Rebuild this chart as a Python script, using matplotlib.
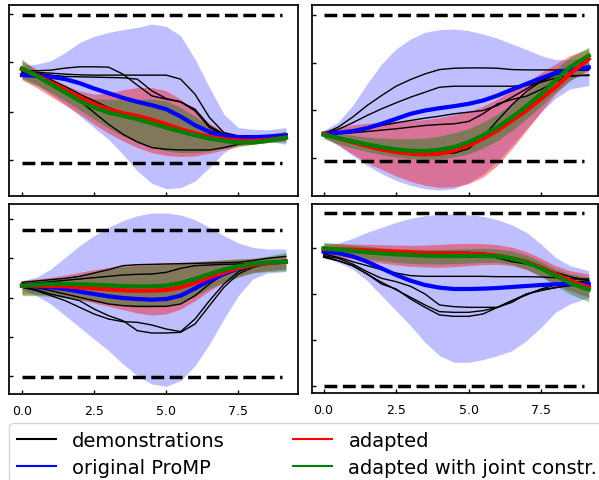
import matplotlib.pyplot as plt
from matplotlib.lines import Line2D

# time axis (shared by all four joints)
t = [0, 0.5, 1, 1.5, 2, 2.5, 3, 3.5, 4, 4.5, 5, 5.5, 6, 6.5, 7, 7.5, 8, 8.5, 9.15]

# ---- joint 1 (top left)
tl_demos = [
    [267, 267, 269, 275, 279, 279, 278, 257, 224, 192, 182, 174, 152, 102, 77, 72, 72, 72, 74],
    [264, 262, 260, 257, 255, 254, 254, 254, 254, 254, 254, 242, 197, 127, 82, 72, 72, 72, 74],
    [264, 260, 254, 250, 249, 248, 247, 246, 242, 207, 184, 174, 147, 97, 75, 70, 70, 70, 72],
    [262, 254, 240, 220, 197, 177, 157, 142, 127, 112, 97, 87, 80, 74, 70, 67, 64, 64, 64],
    [257, 247, 232, 207, 177, 142, 107, 77, 54, 37, 32, 30, 30, 30, 37, 47, 54, 58, 62],
]
tl_blue = [254, 252, 249, 242, 230, 214, 200, 186, 174, 164, 152, 130, 104, 84, 72, 68, 68, 70, 74]
tl_blue_hi = [282, 287, 297, 322, 352, 370, 382, 390, 397, 407, 400, 372, 302, 217, 137, 97, 92, 90, 97]
tl_blue_lo = [247, 227, 197, 167, 132, 97, 62, 17, -33, -70, -86, -83, -63, -23, 22, 47, 54, 57, 47]
tl_red = [272, 254, 232, 210, 187, 167, 152, 140, 132, 120, 107, 92, 80, 70, 62, 58, 57, 60, 67]
tl_red_hi = [297, 272, 247, 224, 207, 197, 200, 210, 217, 217, 207, 182, 147, 110, 84, 74, 72, 77, 84]
tl_red_lo = [240, 217, 190, 164, 137, 107, 80, 57, 37, 22, 14, 10, 12, 20, 30, 40, 47, 52, 57]
tl_green = [274, 252, 227, 202, 177, 157, 142, 132, 122, 110, 97, 85, 74, 64, 57, 52, 52, 57, 67]
tl_green_hi = [302, 267, 237, 212, 192, 184, 182, 182, 182, 182, 177, 157, 130, 102, 82, 72, 69, 74, 87]
tl_green_lo = [242, 224, 202, 177, 150, 122, 95, 72, 52, 37, 27, 22, 22, 27, 35, 42, 47, 52, 54]
tl_limits = [435, -8]

# ---- joint 2 (top right)
tr_demos = [
    [73, 93, 123, 158, 188, 216, 236, 253, 266, 270, 271, 271, 270, 266, 265, 265, 265, 265, 265],
    [73, 86, 106, 128, 148, 166, 183, 198, 213, 216, 216, 216, 216, 216, 218, 228, 240, 248, 248],
    [73, 78, 83, 90, 98, 106, 113, 120, 126, 133, 138, 143, 158, 183, 208, 233, 253, 263, 266],
    [73, 74, 76, 80, 84, 88, 93, 98, 101, 103, 110, 133, 163, 176, 186, 206, 230, 246, 250],
    [70, 63, 53, 43, 31, 23, 18, 15, 13, 15, 28, 63, 113, 160, 200, 230, 250, 263, 273],
]
tr_blue = [73, 76, 81, 90, 103, 118, 133, 143, 150, 156, 163, 173, 188, 206, 223, 240, 256, 266, 273]
tr_blue_hi = [83, 108, 158, 223, 283, 328, 358, 378, 386, 388, 383, 373, 360, 343, 326, 308, 296, 296, 303]
tr_blue_lo = [63, 38, 8, -22, -47, -67, -82, -92, -96, -92, -74, -48, -10, 38, 88, 138, 180, 208, 218]
tr_red = [73, 60, 48, 36, 26, 18, 13, 11, 13, 23, 38, 58, 83, 113, 143, 178, 213, 253, 298]
tr_red_hi = [83, 93, 100, 105, 108, 110, 112, 116, 122, 130, 140, 156, 178, 203, 228, 256, 283, 308, 328]
tr_red_lo = [63, 40, 12, -14, -34, -54, -70, -82, -88, -86, -77, -57, -22, 28, 83, 138, 193, 233, 263]
tr_green = [70, 60, 50, 41, 33, 26, 22, 21, 25, 33, 48, 68, 93, 123, 156, 193, 233, 273, 308]
tr_green_hi = [83, 76, 68, 63, 60, 58, 58, 60, 66, 76, 88, 108, 133, 163, 196, 230, 266, 303, 333]
tr_green_lo = [58, 43, 30, 20, 10, 3, -2, -4, -2, 3, 13, 30, 53, 83, 118, 156, 198, 233, 268]
tr_limits = [431, -10]

# ---- joint 3 (bottom left)
bl_demos = [
    [282, 286, 290, 294, 300, 310, 320, 332, 335, 336, 337, 338, 339, 340, 341, 342, 347, 354, 360],
    [277, 280, 284, 288, 292, 296, 300, 304, 306, 307, 312, 324, 332, 334, 336, 337, 339, 342, 346],
    [272, 266, 257, 247, 237, 227, 217, 212, 210, 210, 210, 217, 242, 277, 307, 327, 337, 342, 344],
    [270, 260, 247, 237, 227, 202, 182, 167, 137, 130, 130, 132, 157, 212, 267, 307, 327, 337, 347],
    [267, 257, 242, 227, 207, 187, 172, 164, 162, 154, 142, 134, 172, 227, 277, 314, 332, 340, 347],
]
bl_blue = [272, 270, 267, 262, 254, 247, 240, 235, 232, 230, 232, 242, 264, 287, 307, 324, 334, 340, 344]
bl_blue_hi = [287, 297, 322, 357, 392, 422, 447, 467, 482, 490, 490, 484, 470, 447, 422, 400, 387, 382, 382]
bl_blue_lo = [262, 242, 217, 182, 147, 112, 77, 37, 2, -23, -30, -13, 32, 97, 172, 242, 292, 310, 314]
bl_red = [272, 272, 271, 270, 267, 264, 261, 258, 257, 257, 259, 267, 280, 297, 312, 325, 334, 340, 344]
bl_red_hi = [287, 292, 297, 304, 312, 320, 327, 334, 337, 339, 340, 342, 344, 347, 350, 352, 354, 357, 362]
bl_red_lo = [247, 247, 244, 237, 230, 220, 210, 200, 190, 184, 187, 202, 227, 257, 282, 300, 312, 317, 322]
bl_green = [272, 275, 277, 277, 276, 275, 273, 271, 270, 270, 272, 280, 292, 307, 320, 330, 337, 342, 344]
bl_green_hi = [282, 286, 290, 296, 304, 314, 322, 329, 332, 334, 336, 339, 342, 346, 349, 352, 354, 360, 372]
bl_green_lo = [242, 242, 240, 236, 230, 224, 217, 212, 207, 207, 209, 220, 240, 264, 282, 297, 310, 314, 317]
bl_limits = [440, -3]

# ---- joint 4 (bottom right)
br_demos = [
    [408, 407, 406, 405, 404, 402, 401, 400, 400, 400, 400, 398, 383, 372, 365, 355, 340, 327, 315],
    [395, 385, 372, 360, 348, 338, 330, 328, 328, 328, 328, 328, 327, 327, 327, 326, 324, 320, 320],
    [390, 382, 365, 342, 322, 312, 298, 275, 242, 237, 235, 235, 235, 250, 275, 288, 294, 300, 305],
    [385, 375, 360, 335, 310, 288, 265, 242, 222, 220, 220, 225, 235, 255, 275, 285, 294, 302, 310],
    [388, 375, 360, 335, 305, 290, 260, 235, 212, 208, 208, 215, 235, 255, 272, 290, 302, 310, 315],
]
br_blue = [402, 398, 388, 372, 352, 332, 315, 302, 294, 290, 290, 291, 293, 296, 299, 302, 304, 305, 305]
br_blue_hi = [420, 428, 442, 460, 475, 490, 502, 510, 514, 515, 513, 508, 498, 482, 460, 425, 385, 360, 345]
br_blue_lo = [385, 370, 350, 315, 270, 225, 180, 130, 90, 70, 70, 78, 90, 105, 135, 175, 220, 245, 265]
br_red = [410, 409, 408, 406, 404, 402, 400, 398, 397, 396, 395, 394, 390, 382, 372, 355, 335, 315, 295]
br_red_hi = [427, 426, 425, 424, 423, 422, 421, 422, 424, 426, 427, 426, 423, 415, 402, 382, 360, 345, 335]
br_red_lo = [390, 385, 380, 374, 368, 362, 358, 356, 355, 357, 360, 363, 364, 360, 348, 328, 305, 285, 265]
br_green = [412, 408, 404, 400, 397, 394, 392, 390, 389, 389, 389, 389, 388, 382, 370, 352, 330, 308, 288]
br_green_hi = [430, 426, 422, 418, 414, 411, 410, 409, 409, 410, 411, 412, 410, 404, 392, 372, 350, 335, 325]
br_green_lo = [395, 390, 385, 380, 375, 370, 367, 365, 365, 366, 368, 370, 370, 364, 350, 328, 300, 275, 252]
br_limits = [517, -2]

labels = ["demonstrations", "original ProMP", "adapted", "adapted with joint constr."]


def draw_joint(ax, demos, blue, blue_lo, blue_hi, red, red_lo, red_hi,
               green, green_lo, green_hi, limits):
    ax.fill_between(t, blue_lo, blue_hi, color="blue", alpha=0.25, lw=0)
    ax.fill_between(t, red_lo, red_hi, color="red", alpha=0.4, lw=0)
    ax.fill_between(t, green_lo, green_hi, color="green", alpha=0.4, lw=0)
    for d in demos:
        ax.plot(t, d, color="black", lw=1)
    ax.plot(t, blue, color="blue", lw=3)
    ax.plot(t, red, color="red", lw=3)
    ax.plot(t, green, color="green", lw=3)
    for lim in limits:
        ax.plot([0, 9.0], [lim, lim], "k--", lw=2.5)
    ax.tick_params(direction="in", length=3, width=1, labelleft=False,
                   labelsize=9, pad=7)
    ax.set_xticks([0, 2.5, 5.0, 7.5])
    for s in ax.spines.values():
        s.set_linewidth(1.25)


fig = plt.figure(figsize=(5.99, 4.81), dpi=100)

ax1 = fig.add_axes([0.0150, 0.5904, 0.4825, 0.3971])
draw_joint(ax1, tl_demos, tl_blue, tl_blue_lo, tl_blue_hi, tl_red, tl_red_lo, tl_red_hi,
           tl_green, tl_green_lo, tl_green_hi, tl_limits)
ax1.set_xlim(-0.45, 9.57)
ax1.set_ylim(-108, 464)
ax1.set_yticks([0, 145, 292, 436])
ax1.tick_params(labelbottom=False)

ax2 = fig.add_axes([0.5209, 0.5904, 0.4775, 0.3971])
draw_joint(ax2, tr_demos, tr_blue, tr_blue_lo, tr_blue_hi, tr_red, tr_red_lo, tr_red_hi,
           tr_green, tr_green_lo, tr_green_hi, tr_limits)
ax2.set_xlim(-0.40, 9.47)
ax2.set_ylim(-114, 460)
ax2.set_yticks([0, 143, 286, 431])
ax2.tick_params(labelbottom=False)

ax3 = fig.add_axes([0.0150, 0.1788, 0.4825, 0.3950])
draw_joint(ax3, bl_demos, bl_blue, bl_blue_lo, bl_blue_hi, bl_red, bl_red_lo, bl_red_hi,
           bl_green, bl_green_lo, bl_green_hi, bl_limits)
ax3.set_xlim(-0.45, 9.57)
ax3.set_ylim(-53, 517)
ax3.set_yticks([0, 118, 236, 354, 472])

ax4 = fig.add_axes([0.5209, 0.1809, 0.4775, 0.3929])
draw_joint(ax4, br_demos, br_blue, br_blue_lo, br_blue_hi, br_red, br_red_lo, br_red_hi,
           br_green, br_green_lo, br_green_hi, br_limits)
ax4.set_xlim(-0.40, 9.47)
ax4.set_ylim(-22, 545)
ax4.set_yticks([0, 138, 275, 413])

handles = [Line2D([], [], color=c, lw=1.5) for c in ["black", "blue", "red", "green"]]
fig.legend(handles, labels, loc="upper left", bbox_to_anchor=(9 / 599, 1 - 424 / 481),
           ncol=2, fontsize=14, columnspacing=3.5, labelspacing=0.4,
           handletextpad=0.85, borderaxespad=0)

fig.savefig("out.png", dpi=100)
